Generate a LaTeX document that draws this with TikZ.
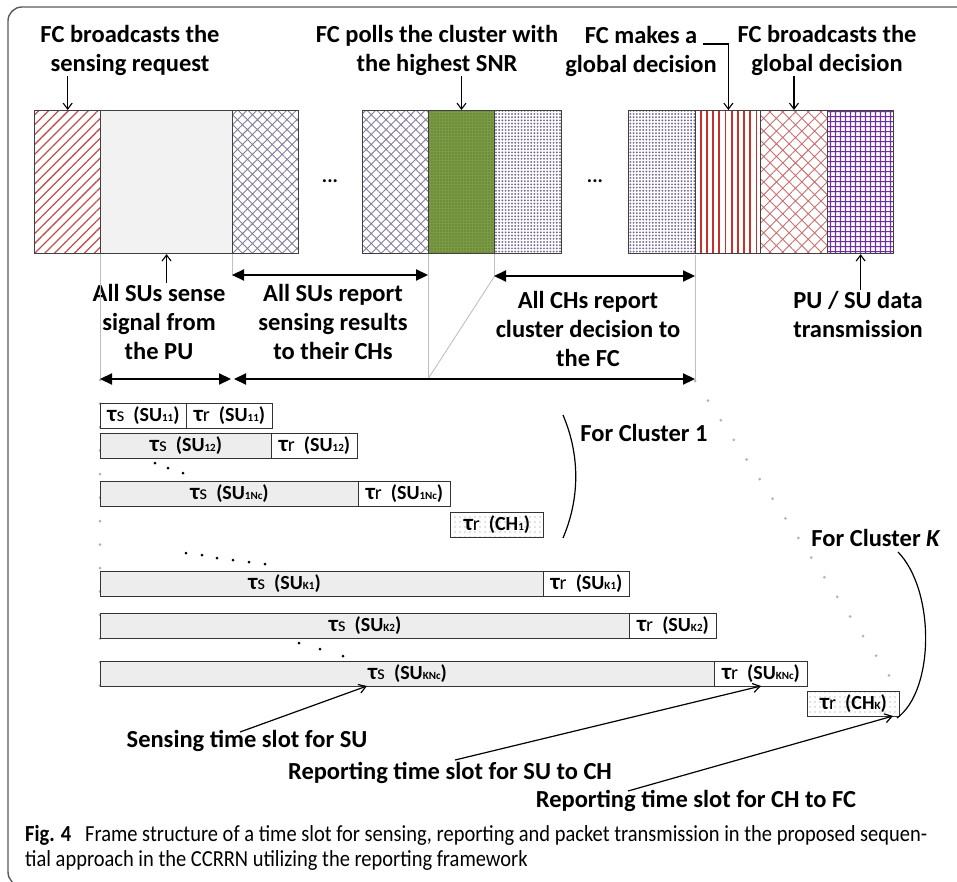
\documentclass[tikz,border=0pt]{standalone}
\usepackage{fontspec}
\setmainfont{Carlito}
\newfontfamily\capfont[FakeStretch=0.89]{Carlito}
\usetikzlibrary{patterns.meta,arrows.meta}
\definecolor{framegray}{HTML}{5A5A5A}
\definecolor{redhatch}{HTML}{C0504D}
\definecolor{crossgray}{HTML}{857C9C}
\definecolor{olive}{HTML}{7A9A44}
\definecolor{olivedot}{HTML}{4F6228}
\definecolor{lavdot}{HTML}{7D7196}
\definecolor{redvert}{HTML}{C8302A}
\definecolor{redcross}{HTML}{C87070}
\definecolor{purplegrid}{HTML}{7030A0}
\newcommand\lsub[1]{{\fontsize{11}{11}\selectfont #1}}
\newcommand\tauS[1]{{\fontsize{23}{23}\selectfont τ}{\mdseries s}\ \ (SU\lsub{#1})}
\newcommand\tauR[1]{{\fontsize{23}{23}\selectfont τ}{\mdseries r}\ \ (SU\lsub{#1})}
\begin{document}
\begin{tikzpicture}[x=1pt,y=-1pt,
  blk/.style={draw=black!75, line width=1.1pt, minimum height=143pt, inner sep=0pt, anchor=north west},
  tbox/.style={draw=black!80, line width=1pt, minimum height=24.5pt, inner sep=0pt, anchor=north west,
     font=\fontsize{20}{20}\selectfont\bfseries, fill=white},
  sbox/.style={tbox, fill=black!7},
  cbox/.style={tbox, pattern={Dots[distance=5pt, radius=0.7pt]}, pattern color=black!45},
  lbl/.style={font=\fontsize{24.5}{29}\selectfont\bfseries, align=center, inner sep=1pt},
  gline/.style={draw=black!25, line width=0.9pt},
  gdots/.style={draw=black!30, line width=3pt, line cap=round, dash pattern=on 0pt off 23.5pt},
  big/.style={line width=2.2pt, arrows={Triangle[length=12pt,width=11pt]-Triangle[length=12pt,width=11pt]}},
  thin/.style={line width=1.1pt, arrows={-Straight Barb[length=6pt,width=9pt]}},
  ptr/.style={line width=1.2pt, arrows={-Straight Barb[length=7pt,width=9pt]}}
]
\useasboundingbox (0,0) rectangle (957,882);
\begin{scope}
\clip (0,0) rectangle (957,882);
\draw[framegray, line width=1.4pt, rounded corners=14pt] (8,7) rectangle (990,886);
\end{scope}

% top frame blocks
\node[blk, minimum width=66pt, pattern={Lines[angle=45,distance=7pt,line width=1.3pt]}, pattern color=redhatch] (b1) at (34,110) {};
\node[blk, minimum width=132pt, fill=black!5] (b2) at (100,110) {};
\node[blk, minimum width=66pt, pattern={Hatch[angle=45,distance=7pt,line width=0.9pt]}, pattern color=crossgray] (b3) at (232,110) {};
\node[blk, minimum width=66pt, pattern={Hatch[angle=45,distance=7pt,line width=0.9pt]}, pattern color=crossgray] (b4) at (362,110) {};
\node[blk, minimum width=66pt, preaction={fill=olive}, pattern={Dots[distance=3pt,radius=0.6pt]}, pattern color=olivedot] (b5) at (428,110) {};
\node[blk, minimum width=67pt, pattern={Dots[distance=3.2pt,radius=1.1pt]}, pattern color=lavdot] (b6) at (494,110) {};
\node[blk, minimum width=67pt, pattern={Dots[distance=3.2pt,radius=1.1pt]}, pattern color=lavdot] (b7) at (628,110) {};
\node[blk, minimum width=65pt, pattern={Lines[angle=90,distance=6.2pt,line width=1.8pt]}, pattern color=redvert] (b8) at (695,110) {};
\node[blk, minimum width=67pt, pattern={Hatch[angle=45,distance=9pt,line width=0.9pt]}, pattern color=redcross] (b9) at (760,110) {};
\node[blk, minimum width=66pt, pattern={Hatch[angle=0,distance=5.4pt,line width=1.2pt]}, pattern color=purplegrid] (b10) at (827,110) {};

\node[font=\fontsize{20}{20}\selectfont\bfseries] (dots1) at (330,181) {...};
\node[font=\fontsize{20}{20}\selectfont\bfseries] (dots2) at (595,181) {...};

% top labels
\node[lbl] (l1) at (130,50) {FC broadcasts the\\sensing request};
\node[lbl] (l2) at (437,50) {FC polls the cluster with\\the highest SNR};
\node[lbl] (l3) at (641,51) {FC makes a\\global decision};
\node[lbl] (l4) at (827,50) {FC broadcasts the\\global decision};
\draw[thin] (b1.north |- l1.south) -- (b1.north);
\draw[thin] (b5.north |- l2.south) -- (b5.north);
\coordinate (mkL) at (703,44);
\draw[thin] (mkL) -- (b8.north |- mkL) -- (b8.north);
\draw[thin] (b9.north |- l4.south) -- (b9.north);

% lower labels
\node[lbl] (l5) at (159,322) {All SUs sense\\signal from\\the PU};
\node[lbl] (l6) at (333,322) {All SUs report\\sensing results\\to their CHs};
\node[lbl] (l7) at (588,329) {All CHs report\\cluster decision to\\the FC};
\node[lbl] (l8) at (858,314) {PU / SU data\\transmission};
\draw[thin] (b2.south |- l5.north) -- (b2.south);
\draw[thin] (b10.south |- l8.north) -- (b10.south);

% gray guide lines
\coordinate (g1) at (100,380);
\coordinate (g2) at (232,276);
\coordinate (g3) at (428,379);
\coordinate (g4) at (494,277);
\coordinate (g5) at (695,381);
\draw[gline] (b2.south west) -- (g1);
\draw[gline] (b3.south west) -- (g2);
\draw[gline] (b5.south west) -- (g3);
\draw[gline] (b6.south west) -- (g4);
\draw[gline] (b8.south west) -- (g5);
\draw[gline] (g4) -- (g3);

% dotted guides
\coordinate (d1) at (100,690);
\coordinate (d2) at (890,677);
\draw[gdots] (g1) -- (d1);
\draw[gdots] (g5) -- (d2);

% big arrows
\coordinate (a1) at (232,275); \coordinate (a2) at (428,275);
\coordinate (a3) at (494,276); \coordinate (a4) at (695,276);
\coordinate (a5) at (100,379); \coordinate (a6) at (231,379);
\coordinate (a7) at (234,379); \coordinate (a8) at (695,379);
\draw[big] (a1) -- (a2);
\draw[big] (a3) -- (a4);
\draw[big] (a5) -- (a6);
\draw[big] (a7) -- (a8);

% cluster 1 rows
\node[tbox, minimum width=86pt] (s11) at (100,403) {\tauS{11}};
\node[tbox, minimum width=86pt] (r11) at (186,403) {\tauR{11}};
\node[sbox, minimum width=171pt] (s12) at (100,433) {\tauS{12}};
\node[tbox, minimum width=86pt] (r12) at (271,433) {\tauR{12}};
\node[sbox, minimum width=258pt] (s1n) at (100,481) {\tauS{1Nc}};
\node[tbox, minimum width=92pt] (r1n) at (358,481) {\tauR{1Nc}};
\node[cbox, minimum width=93pt] (rc1) at (450,512) {{\fontsize{23}{23}\selectfont τ}{\mdseries r}\ \ (CH\lsub{1})};

% cluster K rows
\node[sbox, minimum width=443pt] (sk1) at (100,571) {\hspace*{-75pt}\tauS{K1}};
\node[tbox, minimum width=86pt] (rk1) at (543,571) {\tauR{K1}};
\node[sbox, minimum width=529pt] (sk2) at (100,613) {\tauS{K2}};
\node[tbox, minimum width=87pt] (rk2) at (629,613) {\tauR{K2}};
\node[sbox, minimum width=614pt] (skn) at (100,661) {\tauS{KNc}};
\node[tbox, minimum width=93pt] (rkn) at (714,661) {\tauR{KNc}};
\node[cbox, minimum width=92pt] (rck) at (807,691) {{\fontsize{23}{23}\selectfont τ}{\mdseries r}\ \ (CH\lsub{K})};

% small dot groups
\foreach \x/\y in {155/463,168/468,183/473} \fill (\x,\y) circle (1.5pt);
\foreach \x/\y in {186/553,202/555,217/558,233/560,249/562,265/564} \fill (\x,\y) circle (1.5pt);
\foreach \x/\y in {299/643,320/649,343/656} \fill (\x,\y) circle (1.5pt);

% cluster labels and brackets
\node[font=\fontsize{24.5}{29}\selectfont\bfseries] (fc1) at (644,433) {For Cluster 1};
\node[font=\fontsize{24.5}{29}\selectfont\bfseries] (fck) at (876,538) {For Cluster \textit{K}};
\coordinate (c1a) at (563,415); \coordinate (c1b) at (563,538);
\draw[line width=1.2pt] (c1a) .. controls (580,455) and (580,498) .. (c1b);
\coordinate (cka) at (898,552); \coordinate (ckb) at (897,718);
\draw[line width=1.2pt] (cka) .. controls (935,590) and (935,690) .. (ckb);

% bottom pointers
\node[lbl] (p1) at (247,741) {Sensing time slot for SU};
\node[lbl] (p2) at (450,773) {Reporting time slot for SU to CH};
\node[lbl] (p3) at (696,801) {Reporting time slot for CH to FC};
\coordinate (t1) at (367,686);
\coordinate (t2) at (761,686);
\coordinate (t3) at (893,716);
\coordinate (f1) at (240,732);
\coordinate (f2) at (455,760);
\coordinate (f3) at (628,791);
\draw[ptr] (f1) -- (t1);
\draw[ptr] (f2) -- (t2);
\draw[ptr] (f3) -- (t3);

% caption
\node[anchor=west, inner sep=0pt, font=\capfont\fontsize{23}{27}\selectfont] (cap1) at (25,835) {\textbf{Fig. 4}\hspace{0.6em}Frame structure of a time slot for sensing, reporting and packet transmission in the proposed sequen-};
\node[anchor=west, inner sep=0pt, font=\capfont\fontsize{23}{27}\selectfont] (cap2) at (25,860) {tial approach in the CCRRN utilizing the reporting framework};
\end{tikzpicture}
\end{document}
